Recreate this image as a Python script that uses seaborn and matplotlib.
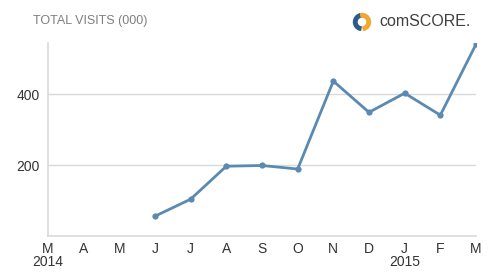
import matplotlib
matplotlib.use("Agg")
import matplotlib.pyplot as plt
import seaborn as sns
import pandas as pd
import numpy as np
from matplotlib.patches import Wedge

months = ["M", "A", "M", "J", "J", "A", "S", "O", "N", "D", "J", "F", "M"]
years = {0: "2014", 10: "2015"}
visits = [np.nan, np.nan, np.nan, 56, 104, 197, 199, 189, 437, 349, 403, 341, 541]

df = pd.DataFrame({"idx": list(range(len(months))), "visits": visits})

sns.set_style("white")
plt.rcParams['font.family'] = ['Liberation Sans', 'DejaVu Sans']

fig = plt.figure(figsize=(5, 2.8), dpi=100)
ax = fig.add_axes([0.096, 0.157, 0.856, 0.69])

line_color = "#5a8ab2"
sns.lineplot(data=df.dropna(), x="idx", y="visits", ax=ax, color=line_color,
             linewidth=2, marker="o", markersize=4.5, markeredgewidth=0)

ax.set_xlim(0, len(months) - 1)
ax.set_ylim(0, 545)
ax.set_yticks([200, 400])
ax.yaxis.grid(True, color="#d9d9d9", linewidth=1)
ax.set_axisbelow(True)
ax.set_xticks(range(len(months)))
labels = [m + ("\n" + years[i] if i in years else "") for i, m in enumerate(months)]
ax.set_xticklabels(labels, fontsize=10, color="#333333", linespacing=0.95, va="top")
ax.tick_params(axis="y", labelsize=10, labelcolor="#333333", length=0, pad=6)
ax.tick_params(axis="x", length=0, pad=4)
ax.set_xlabel("")
ax.set_ylabel("")
for s in ["top", "right"]:
    ax.spines[s].set_visible(False)
for s in ["left", "bottom"]:
    ax.spines[s].set_color("#d9d9d9")
    ax.spines[s].set_linewidth(1.2)

fig.text(0.066, 0.925, "TOTAL VISITS (000)", fontsize=9, color="#7f7f7f",
         ha="left", va="center")

# logo
cx, cy, r = 362, 280 - 22, 8.5
fig.patches.append(Wedge((cx, cy), r, 100, 260, width=3.5, color="#2e5c8a",
                         transform=None, figure=fig))
fig.patches.append(Wedge((cx, cy), r, -80, 100, width=3.5, color="#f0a830",
                         transform=None, figure=fig))
fig.text(0.758, 0.922, "comSCORE.", fontsize=11.5, color="#404040",
         ha="left", va="center")

fig.savefig("out.png", dpi=100)
